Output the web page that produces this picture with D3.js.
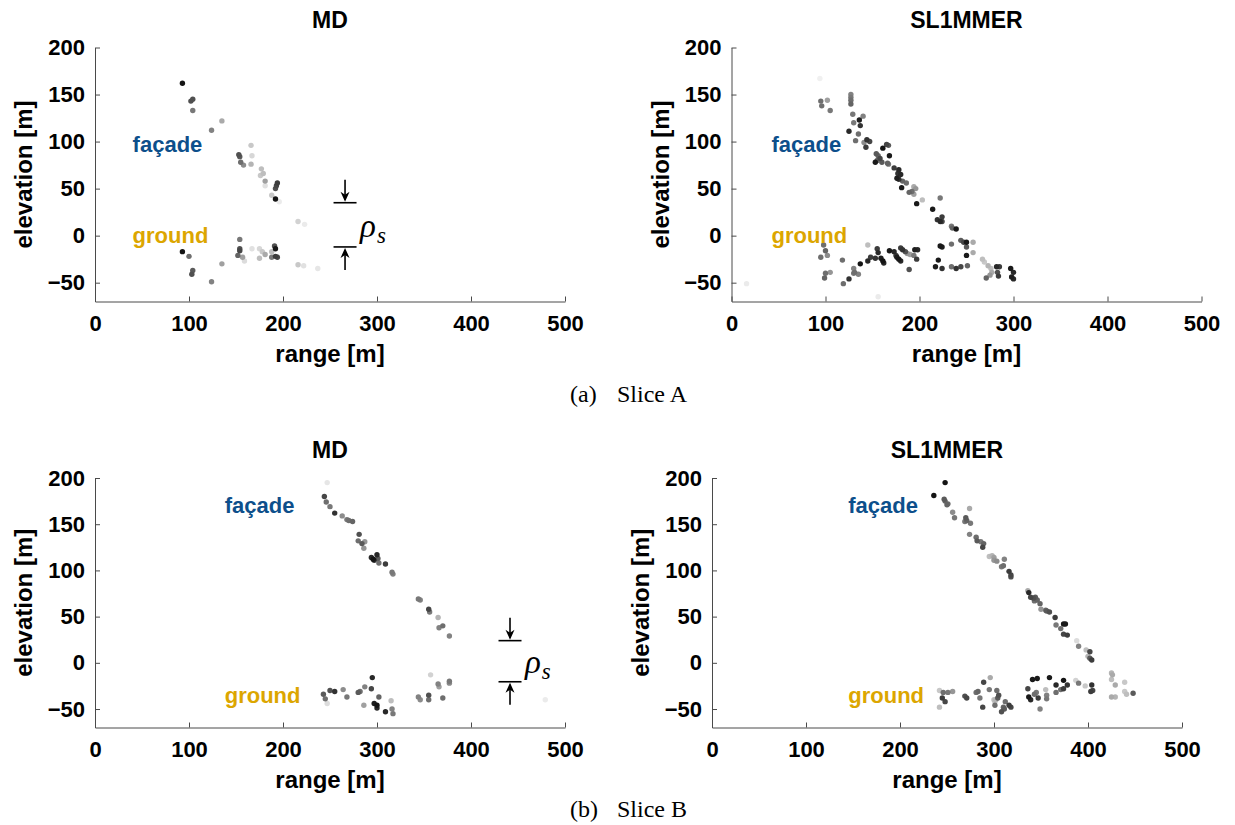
<!DOCTYPE html>
<html>
<head>
<meta charset="utf-8">
<script src="https://cdn.jsdelivr.net/npm/d3@7"></script>
<style>
  body { margin: 0; background: #fff; }
  svg text { font-family: Arial, "Liberation Sans", Helvetica, sans-serif; }
  .tick text { font-size: 22px; font-weight: bold; fill: #000; }
  .domain, .tick line { stroke: #4a4a4a; stroke-width: 1; }
  .title, .axis-label { font-weight: bold; fill: #000; }
  .caption { font-family: "Liberation Serif", "Times New Roman", serif !important; font-size: 24px; fill: #000; }
</style>
</head>
<body>
<svg id="chart" width="1235" height="825"></svg>
<script>
// ---- data: [range m, elevation m, gray level 0..255] ----
var mdSliceA = [
  [93,162,20],[102,143,80],[104,145,80],[104,133,120],[124,112,130],[135,122,170],
  [153,86,80],[154,84,90],[155,78,110],[158,75,140],[166,96,200],[167,85,215],[166,76,180],
  [177,71,190],[176,64,200],[179,66,190],[181,58,160],[181,53,225],[188,43,200],
  [193,53,70],[194,56,60],[192,50,80],[192,39,20],[196,36,235],[216,15,210],[223,12,235],
  [93,-17,20],[100,-22,110],[104,-37,90],[103,-41,80],[124,-49,130],[135,-30,160],
  [154,-4,120],[154,-14,80],[154,-16,70],[152,-21,100],[157,-23,160],[159,-27,220],
  [167,-14,225],[175,-14,215],[178,-17,200],[175,-24,190],[181,-20,170],[188,-17,190],
  [191,-11,80],[192,-14,25],[192,-22,60],[194,-23,70],[188,-23,120],
  [216,-31,200],[222,-32,225],[237,-35,230]
];

var slSliceA = [
  [94,167,240],[95,143,110],[96,138,110],[102,144,160],[105,133,120],
  [127,150,130],[127,147,120],[127,144,110],[127,140,100],[129,129,120],
  [140,127,130],[136,123,30],[130,120,120],[137,117,50],[125,111,40],[135,108,110],[132,101,110],
  [144,102,50],[147,100,70],[141,99,140],[143,94,60],
  [161,93,20],[165,97,70],[167,96,90],
  [154,87,90],[156,85,100],[158,82,70],[155,80,100],[160,78,90],[153,78,25],[168,85,25],
  [166,77,100],[167,76,120],
  [173,72,60],[178,70,40],[177,66,50],[180,65,40],[176,61,30],[178,60,50],
  [182,58,100],[186,56,110],[181,51,25],[194,52,170],[196,50,150],[192,47,110],[194,44,160],[189,46,100],
  [203,38,190],[197,34,25],[222,40,120],[214,28,25],[219,17,50],[222,15,40],[224,20,60],[224,15,70],
  [234,10,120],[235,8,100],[239,7,25],[234,-9,110],[244,-5,90],[247,-7,70],[250,-7,25],[257,-7,170],
  [250,-12,90],[257,-18,170],[250,-21,25],[251,-32,100],[244,-33,70],[239,-35,50],[234,-33,110],
  [222,-11,25],[224,-12,30],[220,-26,25],[217,-33,30],[224,-35,50],
  [267,-25,190],[269,-28,200],[273,-32,180],[276,-35,190],[277,-39,170],[275,-42,150],[271,-45,100],
  [282,-33,40],[285,-33,60],[283,-39,80],[284,-43,60],
  [297,-35,25],[300,-39,40],[298,-44,30],[300,-46,40],
  [98,-10,110],[100,-16,100],[95,-23,110],[102,-21,140],[100,-40,110],[99,-45,100],[105,-39,150],
  [118,-26,110],[119,-51,110],[125,-46,50],[130,-35,130],[131,-39,110],[130,-40,120],[135,-41,130],
  [137,-30,20],[145,-10,190],[145,-27,40],[148,-23,60],[153,-24,50],[155,-14,60],[156,-18,40],
  [159,-24,30],[161,-27,20],[162,-29,40],
  [168,-16,25],[173,-17,40],[176,-23,30],[175,-21,60],[178,-25,25],[180,-27,40],
  [180,-13,60],[182,-15,50],[185,-17,80],[187,-19,150],[190,-20,160],[194,-21,120],[195,-15,30],
  [198,-15,40],[197,-25,60],[189,-36,80],
  [16,-51,235],[156,-65,235]
];

var mdSliceB = [
  [247,195,230],[244,180,70],[246,174,110],[250,169,120],[255,162,50],
  [263,159,140],[268,155,120],[270,154,110],[274,153,100],
  [281,139,80],[280,132,110],[284,129,90],[287,131,150],[286,124,150],
  [294,114,40],[296,112,20],[297,111,50],[300,117,40],[301,113,90],[302,108,110],[309,107,60],
  [316,98,120],[317,96,130],
  [344,69,120],[346,68,130],[355,58,70],[356,55,120],[365,49,180],[366,38,130],[370,40,110],[377,29,130],
  [243,-34,90],[245,-39,110],[247,-44,220],[250,-30,80],[255,-31,50],[264,-29,140],[268,-37,120],
  [280,-32,90],[282,-31,110],[287,-26,130],[286,-46,160],[295,-16,40],[294,-28,70],[302,-37,100],
  [297,-44,30],[300,-46,20],[300,-49,40],[309,-53,40],[315,-41,190],[316,-50,130],[317,-55,120],
  [344,-37,130],[346,-40,140],[355,-35,80],[355,-40,110],[357,-13,210],[365,-23,130],[366,-26,160],
  [370,-38,110],[377,-20,120],[377,-22,140],[479,-40,235]
];

var slSliceB = [
  [248,195,20],[236,181,20],[247,177,90],[248,175,100],[251,172,110],[250,171,100],
  [256,163,140],[258,157,120],[274,167,170],[270,157,90],[271,154,100],[269,153,120],[275,151,120],
  [274,139,130],[281,136,110],[282,132,90],[286,131,120],[289,129,100],[288,125,70],
  [295,115,190],[298,116,180],[300,114,160],[300,111,150],[303,110,140],[311,112,130],
  [308,104,120],[310,105,110],[316,99,60],[318,95,70],[318,93,80],
  [336,78,170],[337,76,40],[339,71,70],[342,70,80],[344,71,90],[346,68,100],[343,67,110],[349,64,100],
  [350,58,150],[355,57,110],[356,56,90],[359,55,80],[365,49,60],[366,41,120],[371,37,110],
  [374,42,25],[376,42,25],[374,31,70],[378,30,60],[388,24,220],[390,18,130],
  [398,14,190],[402,12,70],[400,7,180],[402,5,90],[404,3,60],
  [242,-30,200],[246,-32,110],[251,-32,120],[256,-31,150],[245,-38,60],[248,-42,70],[242,-48,190],
  [269,-36,80],[271,-38,70],[281,-32,110],[283,-31,100],[285,-38,120],[288,-48,70],[289,-21,70],
  [296,-16,170],[295,-29,120],[300,-40,190],[301,-42,200],[302,-40,180],[303,-30,110],[305,-35,80],
  [304,-38,90],[312,-42,110],[301,-46,110],[310,-48,100],[308,-53,80],[311,-50,90],[316,-46,60],
  [318,-48,70],[336,-28,70],[341,-18,25],[346,-17,25],[337,-37,25],[339,-40,40],[343,-34,110],
  [345,-32,120],[347,-38,60],[349,-50,130],[355,-29,190],[356,-35,130],[356,-39,120],[359,-16,25],
  [366,-24,40],[366,-32,110],[371,-29,110],[374,-19,20],[374,-28,60],[378,-24,50],[387,-19,210],
  [390,-22,120],[397,-25,200],[404,-24,50],[403,-31,60],[405,-30,70],
  [425,-11,180],[426,-13,170],[425,-18,190],[429,-24,170],[439,-21,200],[425,-37,170],[429,-37,180],
  [439,-31,200],[441,-34,190],[448,-33,90]
];

var xTicks = [0, 100, 200, 300, 400, 500];
var yTicks = [-50, 0, 50, 100, 150, 200];
var xDomain = [0, 500];
var yDomain = [-70, 200];
var titles = ["MD", "SL1MMER"];
var captions = [["(a)", "Slice A"], ["(b)", "Slice B"]];

var svg = d3.select("#chart");
svg.append("rect").attr("width", 1235).attr("height", 825).attr("fill", "#fff");

/**
 * Draws one scatter panel (axes, points, labels)
 */
function drawPanel(cfg) {
  var x = d3.scaleLinear().domain(xDomain).range([cfg.left, cfg.right]);
  var y = d3.scaleLinear().domain(yDomain).range([cfg.bottom, cfg.top]);
  var g = svg.append("g");

  g.append("g")
    .attr("transform", "translate(0," + cfg.bottom + ")")
    .call(d3.axisBottom(x).tickValues(xTicks).tickSizeInner(-5).tickSizeOuter(0).tickPadding(14));
  g.append("g")
    .attr("transform", "translate(" + cfg.left + ",0)")
    .call(d3.axisLeft(y).tickValues(yTicks).tickSizeInner(-5).tickSizeOuter(0).tickPadding(10));

  // lighter points first so the dark ones sit on top
  var pts = cfg.data.slice().sort(function (a, b) { return b[2] - a[2]; });
  g.append("g").selectAll("circle")
    .data(pts)
    .enter()
    .append("circle")
    .attr("cx", function (d) { return x(d[0]); })
    .attr("cy", function (d) { return y(d[1]); })
    .attr("r", 2.7)
    .attr("fill", function (d) { return d3.rgb(d[2], d[2], d[2]); });

  g.append("text").attr("class", "title")
    .attr("x", (cfg.left + cfg.right) / 2).attr("y", cfg.top - 20)
    .attr("text-anchor", "middle").style("font-size", "23px")
    .text(cfg.title);

  g.append("text").attr("class", "axis-label")
    .attr("x", (cfg.left + cfg.right) / 2).attr("y", cfg.bottom + 60.5)
    .attr("text-anchor", "middle").style("font-size", "24px")
    .text("range [m]");

  g.append("text").attr("class", "axis-label")
    .attr("transform", "translate(" + (cfg.left - 63) + "," + (cfg.top + cfg.bottom) / 2 + ") rotate(-90)")
    .attr("text-anchor", "middle").style("font-size", "24px")
    .text("elevation [m]");

  g.append("text")
    .attr("x", x(cfg.facade[0])).attr("y", y(cfg.facade[1]))
    .style("font-size", "22px").style("font-weight", "bold").attr("fill", "#0d4f8b")
    .text("façade");
  g.append("text")
    .attr("x", x(cfg.ground[0])).attr("y", y(cfg.ground[1]))
    .style("font-size", "22px").style("font-weight", "bold").attr("fill", "#dca600")
    .text("ground");

  if (cfg.marker) {
    var mx = x(cfg.marker[0]);
    var yt = y(cfg.marker[1]);
    var yb = y(cfg.marker[2]);
    var m = g.append("g").attr("stroke", "#000").attr("stroke-width", 1.6);
    m.append("line").attr("x1", mx - 11.5).attr("x2", mx + 11.5).attr("y1", yt).attr("y2", yt);
    m.append("line").attr("x1", mx - 11.5).attr("x2", mx + 11.5).attr("y1", yb).attr("y2", yb);
    m.append("line").attr("x1", mx).attr("x2", mx).attr("y1", yt - 23).attr("y2", yt - 3);
    m.append("line").attr("x1", mx).attr("x2", mx).attr("y1", yb + 3).attr("y2", yb + 23);
    g.append("path")
      .attr("d", "M" + mx + "," + (yt - 1) + "l-4.5,-10l4.5,3l4.5,-3z")
      .attr("fill", "#000");
    g.append("path")
      .attr("d", "M" + mx + "," + (yb + 1) + "l-4.5,10l4.5,-3l4.5,3z")
      .attr("fill", "#000");
    var rho = g.append("text")
      .attr("x", mx + 15).attr("y", (yt + yb) / 2 + 12)
      .style("font-family", "'Liberation Serif', 'Times New Roman', serif")
      .style("font-style", "italic").style("font-size", "33px");
    rho.append("tspan").text("ρ");
    rho.append("tspan").attr("dy", 6).attr("dx", 1).style("font-size", "23px").text("s");
  }
}

drawPanel({ left: 95, right: 565, top: 47.5, bottom: 301.5, title: titles[0], data: mdSliceA,
  facade: [40, 89], ground: [40, -7.5], marker: [266, 35, -12] });
drawPanel({ left: 731.5, right: 1201.5, top: 47.5, bottom: 301.5, title: titles[1], data: slSliceA,
  facade: [42.5, 89], ground: [42.5, -7.5] });
drawPanel({ left: 95, right: 565, top: 478, bottom: 727.5, title: titles[0], data: mdSliceB,
  facade: [138, 162], ground: [138, -43.5], marker: [441.5, 24, -20.5] });
drawPanel({ left: 712, right: 1182, top: 478, bottom: 727.5, title: titles[1], data: slSliceB,
  facade: [145, 162], ground: [145, -43.5] });

// sub-figure captions
[402, 817].forEach(function (yy, i) {
  svg.append("text").attr("class", "caption").attr("x", 570).attr("y", yy).text(captions[i][0]);
  svg.append("text").attr("class", "caption").attr("x", 617).attr("y", yy).text(captions[i][1]);
});
</script>
</body>
</html>
